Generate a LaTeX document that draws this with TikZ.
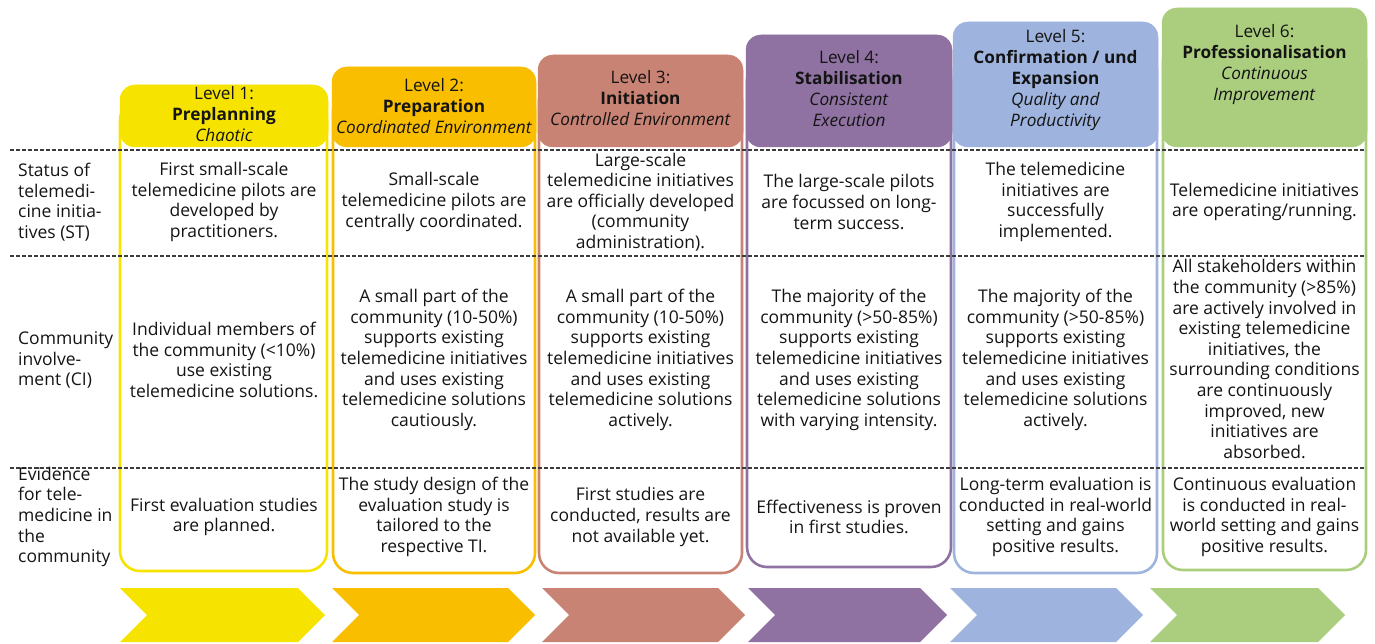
\documentclass[tikz,border=0pt]{standalone}
\usepackage{fontspec}
\setmainfont{Open Sans}
\definecolor{cyel}{RGB}{246,228,0}
\definecolor{cgold}{RGB}{250,190,0}
\definecolor{csal}{RGB}{201,131,116}
\definecolor{cpur}{RGB}{143,114,161}
\definecolor{cblu}{RGB}{158,180,222}
\definecolor{cgrn}{RGB}{170,206,126}
\definecolor{ctxt}{RGB}{20,20,20}
\definecolor{cdash}{RGB}{60,60,60}
\tikzset{
  body/.style={align=center, text=ctxt, font=\fontsize{17.5}{20.6}\selectfont, inner sep=0pt},
  lab/.style={align=left, anchor=west, text=ctxt, font=\fontsize{17.5}{20.6}\selectfont, inner sep=0pt},
  head/.style={align=center, text=ctxt, font=\fontsize{17.2}{21}\selectfont, inner sep=0pt},
  outline/.style={draw=#1, line width=2.6pt, rounded corners=20pt},
  headbox/.style={fill=#1, draw=#1, line width=0.5pt, rounded corners=15pt},
  chev/.style={fill=#1, draw=none},
  sep/.style={draw=cdash, line width=1.3pt, dash pattern=on 4pt off 2pt},
}
\begin{document}
\begin{tikzpicture}[x=1pt,y=-1pt]
\useasboundingbox (0,0) rectangle (1375,644);
% outlines
\draw[outline=cyel]  (120,100) rectangle (327,571);
\draw[outline=cgold] (333,90) rectangle (535,573);
\draw[outline=csal]  (539,80) rectangle (742,573);
\draw[outline=cpur]  (747,60) rectangle (951,567);
\draw[outline=cblu]  (954,50) rectangle (1157,573);
\draw[outline=cgrn]  (1163,40) rectangle (1366,570);
% header boxes
\path[headbox=cyel]  (120,85) rectangle (328,147);
\path[headbox=cgold] (332,67) rectangle (536,147);
\path[headbox=csal]  (538,55) rectangle (743,147);
\path[headbox=cpur]  (746,35) rectangle (952,147);
\path[headbox=cblu]  (953,22) rectangle (1158,147);
\path[headbox=cgrn]  (1162,8) rectangle (1367,147);
% header texts
\node[head] (h1) at (224,114) {Level 1:\\\textbf{Preplanning}\\\textit{Chaotic}};
\node[head] (h2) at (434,106) {Level 2:\\\textbf{Preparation}\\\textit{Coordinated Environment}};
\node[head] (h3) at (640.5,98) {Level 3:\\\textbf{Initiation}\\\textit{Controlled Environment}};
\node[head] (h4) at (849,89) {Level 4:\\\textbf{Stabilisation}\\\textit{Consistent}\\\textit{Execution}};
\node[head] (h5) at (1055.5,80) {Level 5:\\\textbf{Confirmation / und}\\\textbf{Expansion}\\\textit{Quality and}\\\textit{Productivity}};
\node[head] (h6) at (1264.5,65) {Level 6:\\\textbf{Professionalisation}\\\textit{Continuous}\\\textit{Improvement}};
% separators
\coordinate (d1a) at (10,150); \coordinate (d1b) at (1366,150);
\coordinate (d2a) at (10,256); \coordinate (d2b) at (1366,256);
\coordinate (d3a) at (10,468); \coordinate (d3b) at (1366,468);
\draw[sep] (d1a) -- (d1b);
\draw[sep] (d2a) -- (d2b);
\draw[sep] (d3a) -- (d3b);
% row labels
\node[lab] (l1) at (18,202) {Status of\\telemedi-\\cine initia-\\tives (ST)};
\node[lab] (l2) at (18,360) {Community\\involve-\\ment (CI)};
\node[lab] (l3) at (18,517) {Evidence\\for tele-\\medicine in\\the\\community};
% row 1
\node[body] (s1) at (224,202) {First small-scale\\telemedicine pilots are\\developed by\\practitioners.};
\node[body] (s2) at (434,202) {Small-scale\\telemedicine pilots are\\centrally coordinated.};
\node[body] (s3) at (640.5,202) {Large-scale\\telemedicine initiatives\\are officially developed\\(community\\administration).};
\node[body] (s4) at (849,202) {The large-scale pilots\\are focussed on long-\\term success.};
\node[body] (s5) at (1055.5,202) {The telemedicine\\initiatives are\\successfully\\implemented.};
\node[body] (s6) at (1264.5,202) {Telemedicine initiatives\\are operating/running.};
% row 2
\node[body] (c1) at (224,360) {Individual members of\\the community (<10\%)\\use existing\\telemedicine solutions.};
\node[body] (c2) at (434,360) {A small part of the\\community (10-50\%)\\supports existing\\telemedicine initiatives\\and uses existing\\telemedicine solutions\\cautiously.};
\node[body] (c3) at (640.5,360) {A small part of the\\community (10-50\%)\\supports existing\\telemedicine initiatives\\and uses existing\\telemedicine solutions\\actively.};
\node[body] (c4) at (849,360) {The majority of the\\community (>50-85\%)\\supports existing\\telemedicine initiatives\\and uses existing\\telemedicine solutions\\with varying intensity.};
\node[body] (c5) at (1055.5,360) {The majority of the\\community (>50-85\%)\\supports existing\\telemedicine initiatives\\and uses existing\\telemedicine solutions\\actively.};
\node[body] (c6) at (1264.5,359) {All stakeholders within\\the community (>85\%)\\are actively involved in\\existing telemedicine\\initiatives, the\\surrounding conditions\\are continuously\\improved, new\\initiatives are\\absorbed.};
% row 3
\node[body] (e1) at (224,517) {First evaluation studies\\are planned.};
\node[body] (e2) at (434,517) {The study design of the\\evaluation study is\\tailored to the\\respective TI.};
\node[body] (e3) at (640.5,517) {First studies are\\conducted, results are\\not available yet.};
\node[body] (e4) at (849,517) {Effectiveness is proven\\in first studies.};
\node[body] (e5) at (1055.5,517) {Long-term evaluation is\\conducted in real-world\\setting and gains\\positive results.};
\node[body] (e6) at (1264.5,517) {Continuous evaluation\\is conducted in real-\\world setting and gains\\positive results.};
% chevrons
\foreach \xl/\xr/\c in {120/325/cyel, 332/535/cgold, 542/745/csal, 748/947/cpur, 950/1143/cblu, 1150/1345/cgrn}{
  \path[chev=\c] (\xl,588) -- (\xr-27,588) -- (\xr,615) -- (\xr-27,642) -- (\xl,642) -- (\xl+27,615) -- cycle;
}
\end{tikzpicture}
\end{document}
